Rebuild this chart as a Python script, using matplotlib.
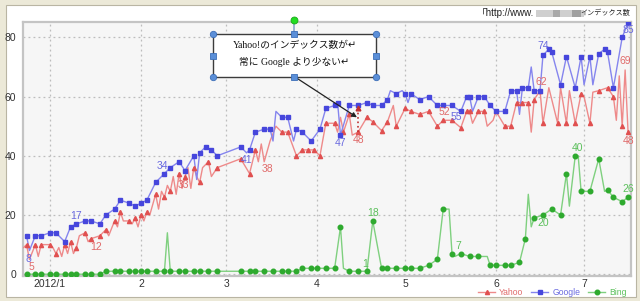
import numpy as np
import matplotlib
matplotlib.use("Agg")
import matplotlib.pyplot as plt
from matplotlib.patches import Rectangle
from matplotlib.lines import Line2D

# ---------------- data ----------------
start_date = np.datetime64("2012-01-01")
month_starts = ["2012-01-01", "2012-02-01", "2012-03-01", "2012-04-01",
                "2012-05-01", "2012-06-01", "2012-07-01"]
month_labels = ["2012/1", "2", "3", "4", "5", "6", "7"]
y_ticks = [0, 20, 40, 60, 80]

# day offsets from 2012-01-01
yahoo_days = [-9, -8, -7, -5, -4, -3, 0, 1, 2, 3,
              4, 5, 6, 7, 8, 9, 10, 12, 13, 14,
              17, 19, 20, 22, 23, 24, 25, 27, 28, 29,
              30, 31, 32, 33, 34, 36, 37, 38, 39, 40,
              41, 42, 43, 44, 45, 46, 47, 48, 49, 50,
              51, 52, 54, 55, 57, 65, 68, 70, 71, 72,
              73, 75, 77, 79, 81, 84, 86, 88, 90, 92,
              94, 97, 98, 99, 100, 102, 103, 105, 108, 110,
              113, 115, 117, 118, 121, 123, 126, 129, 132, 134,
              137, 140, 142, 143, 144, 146, 148, 149, 151, 152,
              155, 157, 159, 161, 163, 164, 165, 167, 168, 170,
              173, 174, 176, 177, 179, 181, 182, 184, 185, 187,
              190, 192, 193, 194, 195, 196, 197]
yahoo_vals = [9, 10, 5, 10, 6, 10, 10, 9, 7, 9,
              6, 10, 7, 11, 7, 9, 13, 14, 11, 12,
              13, 15, 13, 18, 16, 21, 18, 18, 17, 19,
              16, 20, 18, 21, 20, 27, 22, 28, 26, 30,
              28, 33, 27, 34, 29, 33, 36, 29, 36, 33,
              31, 36, 38, 33, 36, 39, 34, 42, 38, 44,
              38, 45, 50, 48, 48, 40, 42, 42, 42, 40,
              51, 51, 48, 53, 48, 54, 47, 48, 53, 51.5,
              48.5, 51.5, 57, 50, 56, 55, 54, 55, 50, 52,
              52, 49.5, 55, 55, 51, 55, 55, 50, 52, 55,
              50, 50, 58, 58, 58, 48, 59, 62, 51, 63,
              51, 63, 51, 62, 51, 61, 60, 51, 61.5, 62,
              63, 60, 52, 67, 50, 69, 48]
yahoo_unmarked = [-9, -7, -4, 1, 3, 4, 6, 8, 10, 13, 20, 23, 25, 28, 30, 32, 34,
                  37, 38, 40, 42, 43, 45, 47, 48, 50, 52, 55, 71, 72, 73, 75, 77,
                  98, 99, 103, 117, 144, 149, 151, 164, 170, 174, 177, 182, 185,
                  193, 194, 196]

google_days = [-8, -7, -5, -3, 0, 2, 5, 7, 9, 12,
               14, 17, 19, 22, 24, 27, 29, 31, 33, 36,
               39, 41, 44, 46, 49, 50, 51, 53, 55, 57,
               65, 67, 68, 70, 73, 75, 76, 77, 79, 81,
               83, 84, 86, 89, 92, 94, 97, 98, 99, 102,
               105, 108, 110, 113, 115, 116, 118, 120, 121, 122,
               123, 126, 129, 132, 134, 137, 140, 142, 143, 144,
               146, 148, 150, 152, 155, 157, 159, 160, 161, 163,
               164, 165, 167, 168, 170, 171, 174, 176, 179, 181,
               182, 184, 185, 187, 189, 190, 192, 195, 197]
google_vals = [13, 8, 13, 13, 14, 14, 11, 16, 17, 18,
               18, 17, 20, 22, 25, 24, 23, 24, 25, 31,
               34, 36, 38, 35, 40, 32, 41, 43, 42, 40,
               43, 41, 42, 48, 49, 49, 45, 55, 53, 53,
               45, 49, 48, 45, 49, 56, 57, 58, 47, 57,
               57, 58, 57, 57, 59, 62, 61, 62, 61, 58,
               61, 59, 60, 57, 57, 57, 55, 60, 60, 55,
               60, 60, 57, 55, 55, 62, 62, 54, 63, 63,
               70, 62, 62, 74, 76, 75, 64, 73.5, 63, 73.5,
               64, 73.5, 64, 74.5, 76, 75, 63, 80, 85]
google_unmarked = [-7, 50, 67, 76, 77, 83, 116, 120, 122, 144, 160, 164, 182, 185]

bing_days = [-8, -5, -3, 0, 2, 5, 7, 9, 12, 14,
             17, 19, 22, 24, 27, 29, 31, 33, 36, 39,
             40, 41, 44, 46, 49, 51, 54, 57, 65, 68,
             70, 73, 76, 79, 81, 84, 86, 89, 91, 94,
             97, 99, 100, 102, 105, 108, 110, 113, 115, 118,
             121, 123, 126, 129, 132, 134, 136, 137, 138, 140,
             143, 146, 149, 150, 152, 155, 157, 160, 162, 163,
             164, 165, 168, 171, 174, 176, 177, 179, 180, 181,
             184, 187, 189, 190, 192, 195, 197]
bing_vals = [0, 0, 0, 0, 0, 0, 0, 0, 0, 0,
             0, 1, 1, 1, 1, 1, 1, 1, 1, 1,
             14, 1, 1, 1, 1, 1, 1, 1, 1, 1,
             1, 1, 1, 1, 1, 1, 2, 2, 2, 2,
             2, 16, 2, 1, 1, 1, 18, 2, 2, 2,
             2, 2, 2, 3, 5, 22, 22, 7, 6, 7,
             6, 6, 6, 3, 3, 3, 3, 4, 12, 27,
             16, 19, 20, 22, 20, 34, 23, 40, 40, 28,
             28, 39, 28, 28.5, 26, 24.5, 26]
bing_unmarked = [40, 100, 136, 138, 149, 163, 164, 177, 180, 189]

# data labels: (day, text offset in pixels)
yahoo_label_days = [-7, 14, 46, 73, 105, 134, 167, 196, 197]
yahoo_label_off = [(2, -8), (5, -8), (-2, -8), (3, -7), (0, -8), (1, 8), (1, 9), (0, 9), (0, -9)]
google_label_days = [-7, 9, 39, 67, 99, 140, 168, 197]
google_label_off = [(-1, -8), (0, 8), (-2, 8), (0, -7), (0, -8), (-4, -6), (0, 9), (0, -7)]
bing_label_days = [108, 110, 140, 168, 179, 197]
bing_label_off = [(-2, 7), (0, 8), (-2, 8), (0, -8), (2, 8), (0, 8)]

# callout
highlight_day = 105
highlight_range = (48, 56)
arrow_target = (104.6, 53)

# ---------------- figure ----------------
W, H = 640, 301
fig = plt.figure(figsize=(W / 100, H / 100), dpi=100)
fig.patch.set_facecolor("#ece9d8")


def P(x, y):
    return (x / W, 1 - y / H)


fig.patches.append(Rectangle(P(6, 297), 630 / W, 292 / H, transform=fig.transFigure,
                             facecolor="white", edgecolor="#b9b5a3", lw=0.8, zorder=-5))

ax = fig.add_axes([23 / W, 1 - 276 / H, 608 / W, 254 / H])
ax.set_zorder(1)
ax.set_facecolor("#f6f6f6")
for s in ax.spines.values():
    s.set_color("#c4c4c4")
    s.set_linewidth(1.6)

RED_L, RED_M, RED_T = "#ee8a8a", "#e05050", "#e06a6a"
BLUE_L, BLUE_M, BLUE_T = "#8585ee", "#4646dc", "#6a6ae0"
GREEN_L, GREEN_M, GREEN_T = "#7fd07f", "#2eaa2e", "#5cc05c"

sans = ["Liberation Sans", "Noto Sans CJK JP", "DejaVu Sans"]

series = [
    (yahoo_days, yahoo_vals, yahoo_unmarked, RED_L, RED_M, "^", 3.0, "Yahoo"),
    (google_days, google_vals, google_unmarked, BLUE_L, BLUE_M, "s", 2.6, "Google"),
    (bing_days, bing_vals, bing_unmarked, GREEN_L, GREEN_M, "o", 3.3, "Bing"),
]
handles = []
for days, vals, unm, lc, mc, mk, ms, name in series:
    d = np.array(days, dtype=float)
    v = np.array(vals, dtype=float)
    mask = np.array([x not in unm for x in days])
    ax.plot(d, v, color=lc, lw=1.0, zorder=3)
    ax.plot(d[mask], v[mask], ls="none", marker=mk, ms=ms, color=mc, mec=mc, zorder=4)
    handles.append(Line2D([], [], color=lc, lw=1.0, marker=mk, ms=ms, mfc=mc, mec=mc, label=name))


def put_labels(days, vals, ldays, offs, color):
    for dd, (dx, dy) in zip(ldays, offs):
        val = vals[days.index(dd)]
        ax.annotate(f"{val:g}", (dd, val), xytext=(dx, dy), textcoords="offset pixels",
                    ha="center", va="center", fontsize=7.5, color=color, family=sans, zorder=6)


put_labels(yahoo_days, yahoo_vals, yahoo_label_days, yahoo_label_off, RED_T)
put_labels(google_days, google_vals, google_label_days, google_label_off, BLUE_T)
put_labels(bing_days, bing_vals, bing_label_days, bing_label_off, GREEN_T)

# highlight dotted line
ax.plot([highlight_day, highlight_day], list(highlight_range), ls=":", color="#c03030", lw=1.2, zorder=5)
ax.plot([highlight_day], [highlight_range[1]], marker="^", ms=3.4, color="#c03030", zorder=5)

# axes
month_x = [(np.datetime64(m) - start_date).astype(int) for m in month_starts]
ax.set_xticks(month_x)
ax.set_xticklabels(month_labels)
ax.set_yticks(y_ticks)
ax.set_xlim(-9.2, 198.0)
ax.set_ylim(-0.6, 85.2)
ax.tick_params(axis="both", length=0, labelsize=7.5, colors="#333333")
ax.tick_params(axis="x", pad=2)
ax.tick_params(axis="y", pad=5)
for t in ax.get_xticklabels() + ax.get_yticklabels():
    t.set_family(sans)
ax.grid(True, ls=(0, (1.5, 2.5)), color="#bdbdbd", lw=0.9)
ax.set_axisbelow(True)

# title
fig.text(534 / W, 1 - 13 / H, "「http://www.", ha="right", va="center", fontsize=7, family=sans, color="#222222")
fig.patches.append(Rectangle(P(536, 17), 48 / W, 7 / H, transform=fig.transFigure, facecolor="#cfcfcf", lw=0))
fig.patches.append(Rectangle(P(553, 17), 7 / W, 7 / H, transform=fig.transFigure, facecolor="#a9a9a9", lw=0))
fig.patches.append(Rectangle(P(572, 17), 9 / W, 7 / H, transform=fig.transFigure, facecolor="#a0a0a0", lw=0))
fig.text(630 / W, 1 - 13 / H, "インデックス数", ha="right", va="center", fontsize=5.1,
         family=["Noto Sans CJK JP", "DejaVu Sans"], color="#222222")

# legend
leg = fig.legend(handles=handles, loc="center right", bbox_to_anchor=P(631, 292.5), ncol=3,
                 frameon=False, handlelength=2.0, handletextpad=0.45,
                 columnspacing=0.9, labelcolor=[RED_T, BLUE_T, GREEN_T], borderpad=0,
                 prop={"family": sans, "size": 6.2})

# callout box (drawn above the axes)
fig.patches.append(Rectangle(P(213, 77), 163 / W, 43 / H, transform=fig.transFigure,
                             facecolor="white", edgecolor="#3c3c3c", lw=1.0, zorder=7))
fig.add_artist(Line2D([294 / W, 294 / W], [1 - 20 / H, 1 - 34 / H], color="#8aa6cf", lw=1.2, zorder=7))
for (hx, hy) in [(213, 34), (376, 34), (213, 77), (376, 77)]:
    fig.add_artist(Line2D([hx / W], [1 - hy / H], marker="o", ms=4.6, mfc="#5b8fd8", mec="#3d6fb8", mew=0.6, zorder=8))
for (hx, hy) in [(294, 34), (294, 77), (213, 55.5), (376, 55.5)]:
    fig.add_artist(Line2D([hx / W], [1 - hy / H], marker="s", ms=4.2, mfc="#5b8fd8", mec="#3d6fb8", mew=0.6, zorder=8))
fig.add_artist(Line2D([294 / W], [1 - 20 / H], marker="o", ms=5, mfc="#22dd22", mec="#18a818", mew=0.6, zorder=8))

serif_jp = ["Liberation Serif", "Noto Sans CJK JP", "DejaVu Sans"]
fig.text(294.5 / W, 1 - 45 / H, "Yahoo!のインデックス数が↵", ha="center", va="center", fontsize=7,
         family=serif_jp, color="#111111", zorder=9)
fig.text(294.5 / W, 1 - 62 / H, "常に Google より少ない↵", ha="center", va="center", fontsize=7,
         family=serif_jp, color="#111111", zorder=9)

ax.annotate("", xy=arrow_target, xycoords="data", xytext=P(295, 77), textcoords="figure fraction",
            arrowprops=dict(arrowstyle="-|>", color="#222222", lw=0.9, mutation_scale=7,
                            shrinkA=0, shrinkB=0), zorder=9, annotation_clip=False)

fig.savefig("out.png", dpi=100, facecolor=fig.get_facecolor())
